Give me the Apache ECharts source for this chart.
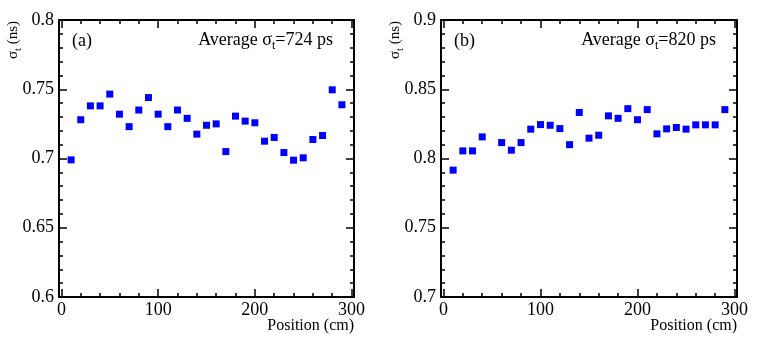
<!DOCTYPE html>
<html>
<head>
<meta charset="utf-8">
<script src="https://cdn.jsdelivr.net/npm/echarts@6/dist/echarts.min.js"></script>
<style>
html,body{margin:0;padding:0;background:#fff;}
#chart{width:763px;height:357px;}
</style>
</head>
<body>
<div id="chart"></div>
<script>
// ---- data ----
const positionsA = [10,20,30,40,50,60,70,80,90,100,110,120,130,140,150,160,170,180,190,200,210,220,230,240,250,260,270,280,290];
const sigmaA = [0.699,0.728,0.738,0.738,0.7465,0.732,0.723,0.735,0.744,0.732,0.723,0.735,0.729,0.7176,0.724,0.725,0.705,0.7306,0.727,0.7258,0.7125,0.7152,0.7043,0.6988,0.7005,0.7137,0.7166,0.7496,0.7388];
const positionsB = [10,20,30,40,60,70,80,90,100,110,120,130,140,150,160,170,180,190,200,210,220,230,240,250,260,270,280,290];
const sigmaB = [0.7916,0.8055,0.8055,0.8156,0.8115,0.806,0.8115,0.8212,0.8245,0.824,0.8216,0.810,0.8332,0.8147,0.8168,0.8308,0.829,0.836,0.828,0.8353,0.8178,0.8214,0.8224,0.8212,0.8243,0.8243,0.8243,0.8353];
const xMajorTicks = [0,100,200,300];
const xMinorTicks = [20,40,60,80,120,140,160,180,220,240,260,280];
const yRangeA = [0.6, 0.8];
const yRangeB = [0.7, 0.9];
const panelTags = ['(a)','(b)'];
const averages = ['724','820'];
const xTitle = 'Position (cm)';

const FONT = 'Liberation Serif';
const grids = [
  {left:59, top:20, width:295, height:277},
  {left:441, top:20, width:296, height:277}
];

function xAxes(g){
  const base = {gridIndex:g, type:'value', min:-2.5, max:302.5, splitLine:{show:false}};
  const line = {show:true, onZero:false, lineStyle:{color:'#000', width:2}};
  return [
    Object.assign({}, base, {position:'bottom', axisLine:line,
      axisTick:{show:true, inside:true, length:8, customValues:xMajorTicks, lineStyle:{color:'#000',width:1.5}},
      axisLabel:{show:true, customValues:xMajorTicks, fontFamily:FONT, fontSize:18, color:'#000', margin:4}}),
    Object.assign({}, base, {position:'bottom', axisLine:{show:false},
      axisTick:{show:true, inside:true, length:4, customValues:xMinorTicks, lineStyle:{color:'#000',width:1.5}},
      axisLabel:{show:false}}),
    Object.assign({}, base, {position:'top', axisLine:line,
      axisTick:{show:true, inside:true, length:8, customValues:xMajorTicks, lineStyle:{color:'#000',width:1.5}},
      axisLabel:{show:false}}),
    Object.assign({}, base, {position:'top', axisLine:{show:false},
      axisTick:{show:true, inside:true, length:4, customValues:xMinorTicks, lineStyle:{color:'#000',width:1.5}},
      axisLabel:{show:false}})
  ];
}
function yAxes(g, range){
  const base = {gridIndex:g, type:'value', min:range[0], max:range[1], interval:0.05, splitLine:{show:false},
    axisLine:{show:true, onZero:false, lineStyle:{color:'#000', width:2}},
    axisTick:{show:true, inside:true, length:8, lineStyle:{color:'#000',width:1.5}},
    minorTick:{show:true, splitNumber:5, length:4, lineStyle:{color:'#000',width:1.5}},
    minorSplitLine:{show:false}};
  return [
    Object.assign({}, base, {position:'left',
      axisLabel:{show:true, fontFamily:FONT, fontSize:18, color:'#000', margin:5,
        formatter: v => String(+v.toFixed(2))}}),
    Object.assign({}, base, {position:'right', axisLabel:{show:false}})
  ];
}

const xAxisList = xAxes(0).concat(xAxes(1));
const yAxisList = yAxes(0, yRangeA).concat(yAxes(1, yRangeB));

const series = [
  {type:'scatter', xAxisIndex:0, yAxisIndex:0, symbol:'rect', symbolSize:7,
   itemStyle:{color:'#0000ff', opacity:1}, data: positionsA.map((x,i)=>[x, sigmaA[i]])},
  {type:'scatter', xAxisIndex:4, yAxisIndex:2, symbol:'rect', symbolSize:7,
   itemStyle:{color:'#0000ff', opacity:1}, data: positionsB.map((x,i)=>[x, sigmaB[i]])}
];

const rich = {
  m:{fontFamily:FONT, fontSize:18, color:'#000', verticalAlign:'top', lineHeight:18},
  s:{fontFamily:FONT, fontSize:12, color:'#000', verticalAlign:'top', lineHeight:12, padding:[9,0,0,0]}
};
const richY = {
  m:{fontFamily:FONT, fontSize:15, color:'#000', verticalAlign:'top', lineHeight:15},
  s:{fontFamily:FONT, fontSize:10, color:'#000', verticalAlign:'top', lineHeight:10, padding:[8,0,0,0]}
};

const graphics = [];
grids.forEach((gr, i) => {
  const right = gr.left + gr.width;
  graphics.push({type:'text', left: gr.left + 13, top: 32,
    style:{text: panelTags[i], font: '18px "Liberation Serif"', fill:'#000'}});
  graphics.push({type:'text', right: 763 - right + 21, top: 31,
    style:{text: '{m|Average σ}{s|t}{m|=' + averages[i] + ' ps}', rich: rich}});
  graphics.push({type:'text', right: 763 - right, top: 318,
    style:{text: xTitle, font:'16px "Liberation Serif"', fill:'#000'}});
  graphics.push({type:'text', x: gr.left - 46, y: 40, rotation: Math.PI/2,
    style:{text:'{m|σ}{s|t}{m| (ns)}', rich: richY, align:'center', verticalAlign:'middle'}});
});

const chart = echarts.init(document.getElementById('chart'), null, {renderer:'canvas'});
chart.setOption({
  animation:false,
  backgroundColor:'#fff',
  grid: grids,
  xAxis: xAxisList,
  yAxis: yAxisList,
  series: series,
  graphic: graphics
});
</script>
</body>
</html>
